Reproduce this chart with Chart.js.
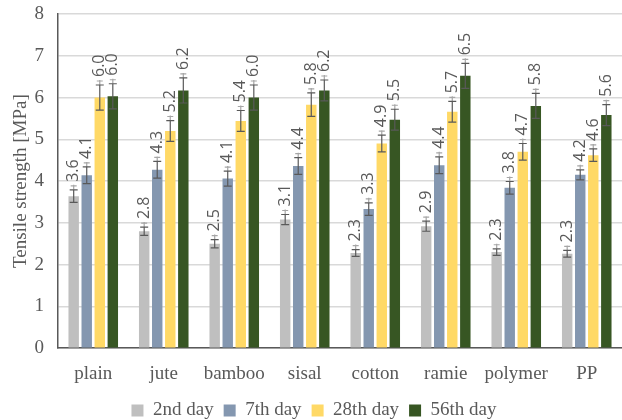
<!DOCTYPE html>
<html>
<head>
<meta charset="utf-8">
<script src="https://cdn.jsdelivr.net/npm/chart.js@4/dist/chart.umd.min.js"></script>
<style>
  html, body { margin: 0; padding: 0; background: #fff; }
  #wrap { width: 622px; height: 420px; }
</style>
</head>
<body>
<div id="wrap"><canvas id="chart"></canvas></div>
<script>
let categories = ['plain', 'jute', 'bamboo', 'sisal', 'cotton', 'ramie', 'polymer', 'PP'];
let seriesNames = ['2nd day', '7th day', '28th day', '56th day'];

let day2 = [3.64, 2.80, 2.50, 3.08, 2.28, 2.92, 2.30, 2.26];
let day7 = [4.14, 4.27, 4.06, 4.36, 3.33, 4.38, 3.84, 4.15];
let day28 = [6.00, 5.20, 5.44, 5.83, 4.90, 5.66, 4.70, 4.62];
let day56 = [6.03, 6.17, 6.00, 6.17, 5.47, 6.52, 5.80, 5.58];

let err2 = [0.15, 0.10, 0.10, 0.12, 0.08, 0.12, 0.08, 0.08];
let err7 = [0.20, 0.20, 0.18, 0.20, 0.15, 0.20, 0.15, 0.12];
let err28 = [0.30, 0.25, 0.25, 0.28, 0.20, 0.25, 0.20, 0.15];
let err56 = [0.30, 0.30, 0.30, 0.25, 0.25, 0.30, 0.30, 0.25];

let yTicks = [0, 1, 2, 3, 4, 5, 6, 7, 8];

const colors = ['#BFBFBF', '#8497B0', '#FFD966', '#375623'];
const values = [day2, day7, day28, day56];
const errors = [err2, err7, err28, err56];
const serif = '"Liberation Serif", "Times New Roman", serif';

// error bars + rotated value labels
const errorLabels = {
  id: 'errorLabels',
  afterDatasetsDraw(chart) {
    const ctx = chart.ctx;
    const y = chart.scales.y;
    chart.data.datasets.forEach((ds, di) => {
      const meta = chart.getDatasetMeta(di);
      meta.data.forEach((bar, i) => {
        const v = ds.data[i];
        const e = errors[di][i];
        const x = bar.x;
        const yTop = y.getPixelForValue(v + e);
        const yBot = y.getPixelForValue(v - e);
        const yExt = y.getPixelForValue(v + e + 0.12);
        ctx.save();
        // lighter leader
        ctx.strokeStyle = '#A6A6A6';
        ctx.lineWidth = 1.2;
        ctx.beginPath();
        ctx.moveTo(x, yTop);
        ctx.lineTo(x, yExt);
        ctx.moveTo(x - 3, yExt + 1);
        ctx.lineTo(x + 3, yExt + 1);
        ctx.stroke();
        // error bar
        ctx.strokeStyle = '#595959';
        ctx.lineWidth = 1.2;
        ctx.beginPath();
        ctx.moveTo(x, yTop);
        ctx.lineTo(x, yBot);
        ctx.moveTo(x - 4, yTop);
        ctx.lineTo(x + 4, yTop);
        ctx.moveTo(x - 4, yBot);
        ctx.lineTo(x + 4, yBot);
        ctx.stroke();
        // label
        ctx.translate(x, yExt - 3);
        ctx.rotate(-Math.PI / 2);
        ctx.fillStyle = '#595959';
        ctx.font = '16px "Open Sans", sans-serif';
        ctx.textAlign = 'left';
        ctx.textBaseline = 'middle';
        ctx.fillText(v.toFixed(1), 0, 0);
        ctx.restore();
      });
    });
  }
};

// pull the legend row closer to the bottom edge
const legendTweak = {
  id: 'legendTweak',
  beforeLayout(chart) {
    const lg = chart.legend;
    if (lg && !lg._tweaked) {
      const fit = lg.fit.bind(lg);
      lg.fit = function () { fit(); this.height -= 10; };
      lg._tweaked = true;
    }
  }
};

new Chart(document.getElementById('chart'), {
  type: 'bar',
  data: {
    labels: categories,
    datasets: seriesNames.map((name, i) => ({
      label: name,
      data: values[i],
      backgroundColor: colors[i],
      borderWidth: 0,
      categoryPercentage: 0.74,
      barPercentage: 0.8
    }))
  },
  options: {
    responsive: true,
    maintainAspectRatio: false,
    animation: false,
    layout: { padding: { top: 14, right: 0, left: 6, bottom: 0 } },
    plugins: {
      tooltip: { enabled: false },
      legend: {
        position: 'bottom',
        labels: {
          boxWidth: 12,
          boxHeight: 12,
          padding: 10,
          color: '#595959',
          font: { family: serif, size: 19 }
        }
      }
    },
    scales: {
      x: {
        grid: { display: false },
        border: { color: '#595959', width: 1.5 },
        ticks: {
          color: '#595959',
          padding: 6,
          maxRotation: 0,
          font: { family: serif, size: 19 }
        }
      },
      y: {
        min: 0,
        max: 8,
        afterBuildTicks(scale) { scale.ticks = yTicks.map(v => ({ value: v })); },
        afterFit(scale) {
          scale.width = 52;
          scale.paddingTop = 0;
          scale.paddingBottom = 0;
        },
        grid: { color: '#D9D9D9', lineWidth: 1.5, drawTicks: false },
        border: { color: '#595959', width: 1.5 },
        title: {
          display: true,
          text: 'Tensile strength [MPa]',
          color: '#595959',
          padding: { top: 4, bottom: 0 },
          font: { family: serif, size: 19 }
        },
        ticks: {
          color: '#595959',
          padding: 14,
          font: { family: serif, size: 19 }
        }
      }
    }
  },
  plugins: [errorLabels, legendTweak]
});
</script>
</body>
</html>
